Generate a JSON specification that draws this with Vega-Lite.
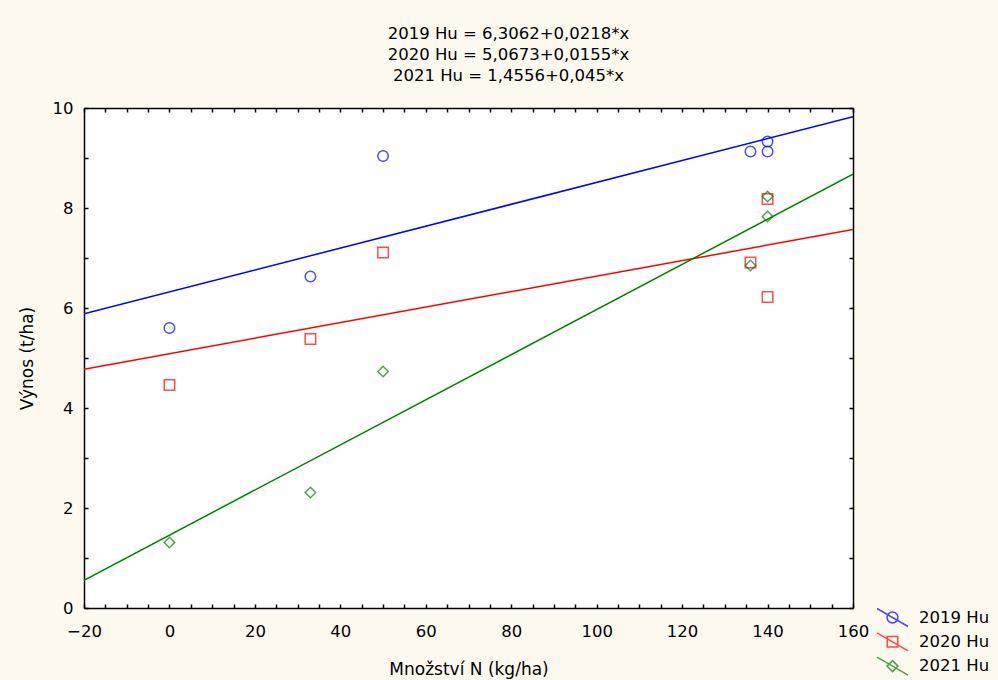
{
  "$schema": "https://vega.github.io/schema/vega-lite/v6.json",
  "width": 769,
  "height": 500,
  "padding": {"left": 18, "top": 25, "right": 135, "bottom": 5},
  "background": "#FDF9EF",
  "title": {
    "text": ["2019 Hu = 6,3062+0,0218*x", "2020 Hu = 5,0673+0,0155*x", "2021 Hu = 1,4556+0,045*x"],
    "font": "DejaVu Sans",
    "fontSize": 16.5,
    "fontWeight": "normal",
    "color": "black",
    "lineHeight": 21.3,
    "anchor": "middle",
    "dx": 40,
    "offset": 15
  },
  "config": {
    "view": {"stroke": null, "fill": "white"},
    "axis": {
      "labelFont": "DejaVu Sans",
      "titleFont": "DejaVu Sans",
      "labelFontSize": 16.5,
      "titleFontSize": 17,
      "titleFontWeight": "normal",
      "labelColor": "black",
      "titleColor": "black",
      "domainColor": "black",
      "domainWidth": 1.5,
      "tickColor": "black",
      "tickWidth": 1.5,
      "tickSize": -4,
      "gridColor": "#E4E4E4",
      "gridWidth": 1,
      "labelFlush": false,
      "labelOverlap": false
    },
    "legend": {
      "labelFont": "DejaVu Sans",
      "labelFontSize": 16.5,
      "labelColor": "black"
    }
  },
  "data": {
    "values": [
      {"year": "2019 Hu", "N": 0, "Vynos": 5.6},
      {"year": "2019 Hu", "N": 33, "Vynos": 6.63},
      {"year": "2019 Hu", "N": 50, "Vynos": 9.04},
      {"year": "2019 Hu", "N": 136, "Vynos": 9.13},
      {"year": "2019 Hu", "N": 140, "Vynos": 9.33},
      {"year": "2019 Hu", "N": 140, "Vynos": 9.13},
      {"year": "2020 Hu", "N": 0, "Vynos": 4.46},
      {"year": "2020 Hu", "N": 33, "Vynos": 5.38},
      {"year": "2020 Hu", "N": 50, "Vynos": 7.11},
      {"year": "2020 Hu", "N": 136, "Vynos": 6.91},
      {"year": "2020 Hu", "N": 140, "Vynos": 8.18},
      {"year": "2020 Hu", "N": 140, "Vynos": 6.22},
      {"year": "2021 Hu", "N": 0, "Vynos": 1.31},
      {"year": "2021 Hu", "N": 33, "Vynos": 2.31},
      {"year": "2021 Hu", "N": 50, "Vynos": 4.73},
      {"year": "2021 Hu", "N": 136, "Vynos": 6.85},
      {"year": "2021 Hu", "N": 140, "Vynos": 8.23},
      {"year": "2021 Hu", "N": 140, "Vynos": 7.83}
    ]
  },
  "layer": [
    {
      "transform": [
        {"regression": "Vynos", "on": "N", "groupby": ["year"], "extent": [-20, 160]}
      ],
      "mark": {"type": "line", "strokeWidth": 1.5, "clip": true},
      "encoding": {
        "x": {
          "field": "N", "type": "quantitative",
          "scale": {"domain": [-20, 160], "nice": false, "zero": false},
          "axis": {
            "orient": "top", "title": null, "labels": false, "grid": false,
            "values": [-20,-15,-10,-5,0,5,10,15,20,25,30,35,40,45,50,55,60,65,70,75,80,85,90,95,100,105,110,115,120,125,130,135,140,145,150,155,160]
          }
        },
        "y": {
          "field": "Vynos", "type": "quantitative",
          "scale": {"domain": [0, 10], "nice": false},
          "axis": {
            "orient": "right", "title": null, "labels": false, "grid": false,
            "values": [0,1,2,3,4,5,6,7,8,9,10]
          }
        },
        "color": {
          "field": "year", "type": "nominal",
          "scale": {"domain": ["2019 Hu", "2020 Hu", "2021 Hu"], "range": ["#0000FF", "#FF0000", "#008000"]}
        }
      }
    },
    {
      "mark": {"type": "point", "filled": false, "strokeWidth": 1.5},
      "encoding": {
        "x": {
          "field": "N", "type": "quantitative",
          "scale": {"domain": [-20, 160], "nice": false, "zero": false},
          "axis": {
            "orient": "bottom",
            "title": "Množství N (kg/ha)",
            "titlePadding": 22,
            "labelPadding": 19,
            "values": [-20,-15,-10,-5,0,5,10,15,20,25,30,35,40,45,50,55,60,65,70,75,80,85,90,95,100,105,110,115,120,125,130,135,140,145,150,155,160],
            "labelExpr": "datum.value % 20 === 0 ? datum.label : ''",
            "gridOpacity": {"condition": {"test": "datum.value % 20 === 0", "value": 1}, "value": 0}
          }
        },
        "y": {
          "field": "Vynos", "type": "quantitative",
          "scale": {"domain": [0, 10], "nice": false},
          "axis": {
            "orient": "left",
            "title": "Výnos (t/ha)",
            "titlePadding": 16,
            "labelPadding": 15,
            "values": [0,1,2,3,4,5,6,7,8,9,10],
            "labelExpr": "datum.value % 2 === 0 ? datum.label : ''",
            "gridOpacity": {"condition": {"test": "datum.value % 2 === 0", "value": 1}, "value": 0}
          }
        },
        "color": {
          "field": "year", "type": "nominal",
          "scale": {"domain": ["2019 Hu", "2020 Hu", "2021 Hu"], "range": ["#0000FF", "#FF0000", "#008000"]},
          "legend": {
            "title": null,
            "orient": "none",
            "legendX": 800,
            "legendY": 501,
            "padding": 0,
            "symbolSize": 225,
            "symbolStrokeWidth": 1.5,
            "symbolFillColor": "transparent",
            "labelOffset": 18,
            "rowPadding": -0.7,
            "symbolType": {"expr": "datum.value === '2019 Hu' ? 'M-2.07,-1.2L2.07,1.2M-0.73,0A0.73,0.73,0,1,0,0.73,0A0.73,0.73,0,1,0,-0.73,0Z' : datum.value === '2020 Hu' ? 'M-2.07,-1.2L2.07,1.2M-0.7,-0.7L0.7,-0.7L0.7,0.7L-0.7,0.7Z' : 'M-2.07,-1.2L2.07,1.2M0,-0.73L0.73,0L0,0.73L-0.73,0Z'"}
          }
        },
        "shape": {
          "field": "year", "type": "nominal",
          "scale": {"range": ["circle", "square", "diamond"]},
          "legend": null
        },
        "size": {"value": 110}
      }
    }
  ],
  "resolve": {"axis": {"x": "independent", "y": "independent"}}
}
